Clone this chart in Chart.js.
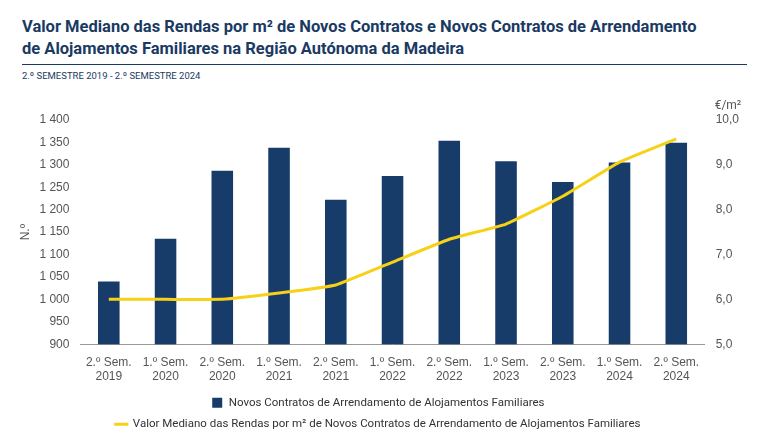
<!DOCTYPE html>
<html><head><meta charset="utf-8">
<script src="https://cdn.jsdelivr.net/npm/chart.js@4"></script>
<style>
body{margin:0;font-family:Roboto,sans-serif;background:#fff;width:770px;height:445px;overflow:hidden}
h1{margin:0;position:absolute;left:22px;top:16px;font-size:16.5px;line-height:22px;color:#1a3a63;font-weight:bold}
.rule{position:absolute;left:22px;top:64px;width:725px;border-top:1px solid #1a3a63}
.sub{position:absolute;left:22px;top:70px;font-size:9.5px;color:#1a3a63}
.wrap{position:absolute;left:0;top:88px;width:770px;height:352px}
</style></head><body>
<h1>Valor Mediano das Rendas por m² de Novos Contratos e Novos Contratos de Arrendamento<br>de Alojamentos Familiares na Região Autónoma da Madeira</h1>
<div class="rule"></div>
<div class="sub">2.º SEMESTRE 2019 - 2.º SEMESTRE 2024</div>
<div class="wrap"><canvas id="c"></canvas></div>
<script>
const categories = [['2.º Sem.','2019'],['1.º Sem.','2020'],['2.º Sem.','2020'],['1.º Sem.','2021'],['2.º Sem.','2021'],['1.º Sem.','2022'],['2.º Sem.','2022'],['1.º Sem.','2023'],['2.º Sem.','2023'],['1.º Sem.','2024'],['2.º Sem.','2024']];
const contratos = [1040, 1135, 1287, 1338, 1222, 1275, 1354, 1308, 1262, 1305, 1349];
const rendas = [6.0, 6.0, 6.0, 6.14, 6.32, 6.83, 7.34, 7.68, 8.3, 9.06, 9.58];
const navy = '#173c6a', yellow = '#f7d117', grey = '#555';

new Chart(document.getElementById('c'), {
  data: {
    labels: categories,
    datasets: [
      {type: 'line', label: 'Valor Mediano das Rendas por m² de Novos Contratos de Arrendamento de Alojamentos Familiares',
       data: rendas, yAxisID: 'y1', borderColor: yellow, backgroundColor: yellow, borderWidth: 3, pointRadius: 0, tension: 0.1, order: 0,
       pointStyle: 'line'},
      {type: 'bar', label: 'Novos Contratos de Arrendamento de Alojamentos Familiares',
       data: contratos, yAxisID: 'y', backgroundColor: navy, barPercentage: 0.38, categoryPercentage: 1, order: 1,
       pointStyle: 'rect'}
    ]
  },
  options: {
    responsive: true, maintainAspectRatio: false, animation: false,
    layout: {padding: {left: 14, right: 28, top: 32, bottom: 0}},
    plugins: {
      legend: {
        position: 'bottom', reverse: true,
        labels: {color: '#333', font: {size: 11.5, family: 'Roboto'}, usePointStyle: true, boxWidth: 30, boxHeight: 10, padding: 10}
      },
      tooltip: {enabled: false}
    },
    scales: {
      x: {grid: {display: false}, border: {color: '#999'}, ticks: {color: grey, font: {size: 12}, maxRotation: 0, autoSkip: false}},
      y: {position: 'left', min: 900, max: 1400, ticks: {stepSize: 50, color: grey, font: {size: 12},
            callback: v => v >= 1000 ? String(v).replace(/^(\d)(\d{3})$/, '$1 $2') : v},
          grid: {display: false}, border: {display: false},
          title: {display: true, text: 'N.º', color: grey, font: {size: 12}}},
      y1: {position: 'right', min: 5, max: 10, ticks: {stepSize: 1, color: grey, font: {size: 12},
            callback: v => v.toFixed(1).replace('.', ',')},
          grid: {display: false}, border: {display: false}}
    }
  },
  plugins: [{
    id: 'unit',
    afterDraw(chart) {
      const s = chart.scales.y1, ctx = chart.ctx;
      ctx.save(); ctx.fillStyle = grey; ctx.font = '12px Roboto'; ctx.textAlign = 'left';
      ctx.fillText('€/m²', s.left + 10, s.top - 14); ctx.restore();
    }
  }]
});
</script>
</body></html>
